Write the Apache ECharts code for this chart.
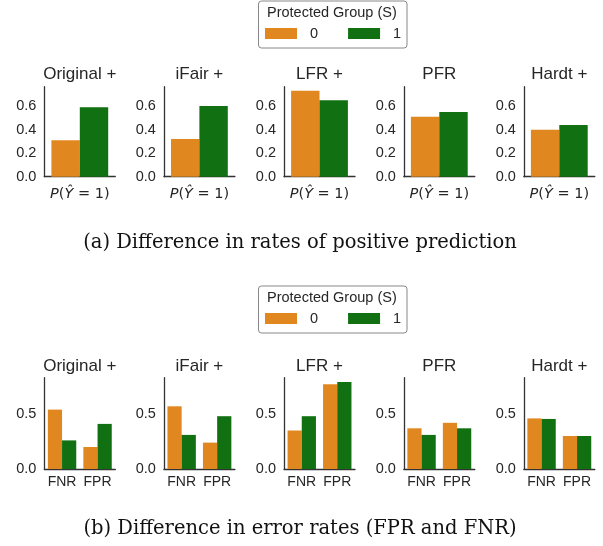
<!DOCTYPE html>
<html><head><meta charset="utf-8">
<script src="https://cdn.jsdelivr.net/npm/echarts@6/dist/echarts.min.js"></script>
<style>html,body{margin:0;padding:0;background:#fff}#c{width:603px;height:546px}</style>
</head><body><div id="c"></div>
<script>
var methods = ['Original +', 'iFair +', 'LFR +', 'PFR', 'Hardt +'];
var groups = ['0', '1'];
var topCategories = ['P(Ŷ = 1)'];
var bottomCategories = ['FNR', 'FPR'];
var posRate0 = [0.31, 0.32, 0.73, 0.51, 0.40];
var posRate1 = [0.59, 0.60, 0.65, 0.55, 0.44];
var fnr0 = [0.54, 0.57, 0.35, 0.37, 0.46];
var fnr1 = [0.26, 0.31, 0.48, 0.31, 0.455];
var fpr0 = [0.20, 0.24, 0.77, 0.42, 0.30];
var fpr1 = [0.41, 0.48, 0.79, 0.37, 0.30];
var topTicks = [0.0, 0.2, 0.4, 0.6];
var bottomTicks = [0.0, 0.5];
var captionA = '(a) Difference in rates of positive prediction';
var captionB = '(b) Difference in error rates (FPR and FNR)';
var legendTitle = 'Protected Group (S)';

var colors = ['#e0881f', '#117011'];
var SANS = 'Liberation Sans, Arial, sans-serif';
var TXT = '#262626';
var lefts = [44.3, 163.9, 284, 403.8, 523.8];
var gw = 71;
var grids = [], xAxes = [], yAxes = [], series = [], titles = [];
function addPanel(i, row) {
  var idx = grids.length;
  var top = row === 0 ? 86.7 : 377.7;
  var h = row === 0 ? 90 : 91.3;
  grids.push({left: lefts[i], top: top, width: gw, height: h});
  var cats = row === 0 ? topCategories : bottomCategories;
  xAxes.push({
    type: 'category', gridIndex: idx, data: cats,
    axisLine: {lineStyle: {color: '#333', width: 1.3}},
    axisTick: {show: false},
    axisLabel: row === 0 ? {
      interval: 0, margin: 10, color: TXT, fontSize: 14.5, fontFamily: 'DejaVu Sans',
      formatter: function (v) { return '{i|P}(' + '{i|Ŷ}' + ' = 1)'; },
      rich: {i: {fontStyle: 'italic', fontSize: 14.5, fontFamily: 'DejaVu Sans', color: TXT}}
    } : {interval: 0, hideOverlap: false, margin: 6, color: TXT, fontSize: 14, fontFamily: SANS}
  });
  var ticks = row === 0 ? topTicks : bottomTicks;
  yAxes.push({
    type: 'value', gridIndex: idx, min: 0, max: row === 0 ? 0.765 : 0.83,
    interval: ticks[1] - ticks[0],
    splitLine: {show: false}, axisTick: {show: false},
    axisLine: {show: true, lineStyle: {color: '#333', width: 1.3}},
    axisLabel: {show: true, showMaxLabel: false, margin: 8, color: TXT, fontSize: 14.5, fontFamily: SANS,
      formatter: function (v) { return v.toFixed(1); }}
  });
  var d0 = row === 0 ? [posRate0[i]] : [fnr0[i], fpr0[i]];
  var d1 = row === 0 ? [posRate1[i]] : [fnr1[i], fpr1[i]];
  [d0, d1].forEach(function (d, k) {
    series.push({
      type: 'bar', name: groups[k], xAxisIndex: idx, yAxisIndex: idx, data: d,
      barGap: '0%', barCategoryGap: '20%', itemStyle: {color: colors[k]},
      silent: true, animation: false
    });
  });
  titles.push({
    text: methods[i], left: lefts[i] + gw / 2, top: (row === 0 ? 73 : 365) - 7, textAlign: 'center', padding: 0,
    textStyle: {fontSize: 17, fontWeight: 'normal', color: TXT, fontFamily: SANS}
  });
}
for (var r = 0; r < 2; r++) for (var i = 0; i < 5; i++) addPanel(i, r);
titles.push({text: captionA, left: 300, top: 233, textAlign: 'center', padding: 0,
  textStyle: {fontSize: 19.5, fontWeight: 'normal', color: '#111', fontFamily: 'DejaVu Serif'}});
titles.push({text: captionB, left: 300, top: 519, textAlign: 'center', padding: 0,
  textStyle: {fontSize: 19.5, fontWeight: 'normal', color: '#111', fontFamily: 'DejaVu Serif'}});

function legendAt(y) {
  return {
    data: groups, left: 260, top: y, orient: 'horizontal', icon: 'rect',
    itemWidth: 32, itemHeight: 11, itemGap: 30, selectedMode: false,
    textStyle: {fontSize: 14.5, color: TXT, fontFamily: SANS, padding: [0, 0, 0, 8]}
  };
}
var graphics = [];
[0, 285].forEach(function (y0) {
  graphics.push({type: 'rect', shape: {x: 258.5, y: y0 + 1, width: 148.5, height: 47, r: 3},
    style: {fill: '#fff', stroke: '#888', lineWidth: 1}, z: 0});
  graphics.push({type: 'text', left: 267, top: y0 + 5,
    style: {text: legendTitle, fontSize: 14.5, fill: TXT, fontFamily: SANS}, z: 1});
});

var chart = echarts.init(document.getElementById('c'), null, {renderer: 'canvas'});
chart.setOption({
  animation: false,
  title: titles,
  graphic: graphics,
  legend: [legendAt(21), legendAt(306)],
  grid: grids, xAxis: xAxes, yAxis: yAxes, series: series
});
</script></body></html>
